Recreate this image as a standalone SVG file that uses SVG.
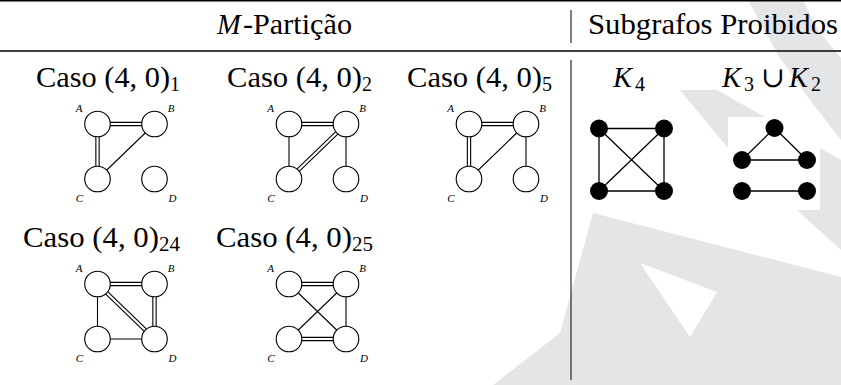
<svg xmlns="http://www.w3.org/2000/svg" width="841" height="385" viewBox="0 0 841 385">
<style>
.f{font-family:'Liberation Serif','Times New Roman','DejaVu Serif',Times,serif}
.t{font-size:28.5px;fill:#000}
.s{font-size:20px;fill:#000}
.i{font-style:italic}
.lb{font-size:11px;font-style:italic;fill:#000;text-anchor:middle}
.e{stroke:#000;stroke-width:1.1;fill:none}
.do{stroke:#000;stroke-width:4.4;fill:none}
.di{stroke:#fff;stroke-width:2.2;fill:none}
.n{fill:#fff;stroke:#000;stroke-width:1.1}
.k{fill:#000}
.ke{stroke:#000;stroke-width:1.3}
.wm{fill:#e4e5e7}
.rule{stroke:#000}
</style>
<rect width="841" height="385" fill="#fff"/>
<g id="watermark">
<polygon class="wm" points="748,0 803,0 818,30 841,58 841,140 810,100 778,55"/>
<polygon class="wm" points="680,90 717,90 841,160 841,250 727,147"/>
<path class="wm" fill-rule="evenodd" d="M593,213 L841,277 L841,385 L493,385 L560,333 Z M640,263 L717,292 L690,337 Z"/>
</g>
<rect x="728" y="117" width="92" height="93" fill="#fff"/>
<g id="rules">
<line class="rule" x1="0" y1="0.8" x2="841" y2="0.8" stroke-width="1.6"/>
<line class="rule" x1="0" y1="51" x2="841" y2="51" stroke-width="1.5" stroke="#222"/>
<line class="rule" x1="571" y1="10" x2="571" y2="43" stroke-width="1"/>
<line class="rule" x1="571" y1="60" x2="571" y2="380" stroke-width="1"/>
</g>
<g class="f">
<g id="headers">
<text class="t i" x="217" y="34">M</text>
<text class="t" x="243" y="34" textLength="109" lengthAdjust="spacingAndGlyphs">-Partição</text>
<text class="t" x="588" y="34" textLength="250" lengthAdjust="spacingAndGlyphs">Subgrafos Proibidos</text>
</g>
<g id="captions">
<text class="t" x="36" y="87" textLength="134" lengthAdjust="spacingAndGlyphs">Caso (4, 0)</text><text class="s" x="170" y="91">1</text>
<text class="t" x="227" y="87" textLength="135" lengthAdjust="spacingAndGlyphs">Caso (4, 0)</text><text class="s" x="362" y="91">2</text>
<text class="t" x="407" y="87" textLength="135" lengthAdjust="spacingAndGlyphs">Caso (4, 0)</text><text class="s" x="542" y="91">5</text>
<text class="t" x="23" y="247" textLength="136" lengthAdjust="spacingAndGlyphs">Caso (4, 0)</text><text class="s" x="159" y="251" textLength="21" lengthAdjust="spacingAndGlyphs">24</text>
<text class="t" x="216" y="247" textLength="136" lengthAdjust="spacingAndGlyphs">Caso (4, 0)</text><text class="s" x="352" y="251" textLength="21" lengthAdjust="spacingAndGlyphs">25</text>
<text class="t i" x="613" y="87">K</text><text class="s" x="635" y="91">4</text>
<text class="t i" x="722" y="87">K</text><text class="s" x="744" y="91">3</text>
<text class="t" x="761" y="87" font-size="24">∪</text>
<text class="t i" x="789" y="87">K</text><text class="s" x="811" y="91">2</text>
</g>
</g>
<g id="connectors">
<line class="do" x1="97.5" y1="124" x2="154.5" y2="124"/><line class="di" x1="97.5" y1="124" x2="154.5" y2="124"/>
<line class="do" x1="97.5" y1="124" x2="97.5" y2="179"/><line class="di" x1="97.5" y1="124" x2="97.5" y2="179"/>
<line class="e" x1="154.5" y1="124" x2="97.5" y2="179"/>
<line class="do" x1="289" y1="124" x2="346" y2="124"/><line class="di" x1="289" y1="124" x2="346" y2="124"/>
<line class="e" x1="289" y1="124" x2="289" y2="179"/>
<line class="do" x1="346" y1="124" x2="289" y2="179"/><line class="di" x1="346" y1="124" x2="289" y2="179"/>
<line class="e" x1="346" y1="124" x2="346" y2="179"/>
<line class="do" x1="469" y1="124" x2="526" y2="124"/><line class="di" x1="469" y1="124" x2="526" y2="124"/>
<line class="do" x1="469" y1="124" x2="469" y2="179"/><line class="di" x1="469" y1="124" x2="469" y2="179"/>
<line class="e" x1="526" y1="124" x2="469" y2="179"/>
<line class="e" x1="526" y1="124" x2="526" y2="179"/>
<line class="do" x1="97.5" y1="284" x2="154.5" y2="284"/><line class="di" x1="97.5" y1="284" x2="154.5" y2="284"/>
<line class="e" x1="97.5" y1="284" x2="97.5" y2="339"/>
<line class="do" x1="97.5" y1="284" x2="154.5" y2="339"/><line class="di" x1="97.5" y1="284" x2="154.5" y2="339"/>
<line class="do" x1="154.5" y1="284" x2="154.5" y2="339"/><line class="di" x1="154.5" y1="284" x2="154.5" y2="339"/>
<line class="e" x1="97.5" y1="339" x2="154.5" y2="339"/>
<line class="do" x1="289" y1="284" x2="346" y2="284"/><line class="di" x1="289" y1="284" x2="346" y2="284"/>
<line class="e" x1="289" y1="284" x2="346" y2="339"/>
<line class="e" x1="346" y1="284" x2="289" y2="339"/>
<line class="e" x1="346" y1="284" x2="346" y2="339"/>
<line class="do" x1="289" y1="339" x2="346" y2="339"/><line class="di" x1="289" y1="339" x2="346" y2="339"/>
<line class="ke" x1="599" y1="128.5" x2="664" y2="128.5"/>
<line class="ke" x1="599" y1="191" x2="664" y2="191"/>
<line class="ke" x1="599" y1="128.5" x2="599" y2="191"/>
<line class="ke" x1="664" y1="128.5" x2="664" y2="191"/>
<line class="ke" x1="599" y1="128.5" x2="664" y2="191"/>
<line class="ke" x1="664" y1="128.5" x2="599" y2="191"/>
<line class="ke" x1="774.5" y1="128" x2="742" y2="160"/>
<line class="ke" x1="774.5" y1="128" x2="807" y2="160"/>
<line class="ke" x1="742" y1="160" x2="807" y2="160"/>
<line class="ke" x1="742" y1="191" x2="807" y2="191"/>
</g>
<g class="f">
<g id="g1">
<circle class="n" cx="97.5" cy="124" r="12.8"/><circle class="n" cx="154.5" cy="124" r="12.8"/>
<circle class="n" cx="97.5" cy="179" r="12.8"/><circle class="n" cx="154.5" cy="179" r="12.8"/>
<text class="lb" x="79" y="111.5">A</text><text class="lb" x="171" y="111.5">B</text>
<text class="lb" x="79.5" y="201.7">C</text><text class="lb" x="172.5" y="201.7">D</text>
</g>
<g id="g2">
<circle class="n" cx="289" cy="124" r="12.8"/><circle class="n" cx="346" cy="124" r="12.8"/>
<circle class="n" cx="289" cy="179" r="12.8"/><circle class="n" cx="346" cy="179" r="12.8"/>
<text class="lb" x="270.5" y="111.5">A</text><text class="lb" x="362.5" y="111.5">B</text>
<text class="lb" x="271" y="201.7">C</text><text class="lb" x="364" y="201.7">D</text>
</g>
<g id="g5">
<circle class="n" cx="469" cy="124" r="12.8"/><circle class="n" cx="526" cy="124" r="12.8"/>
<circle class="n" cx="469" cy="179" r="12.8"/><circle class="n" cx="526" cy="179" r="12.8"/>
<text class="lb" x="450.5" y="111.5">A</text><text class="lb" x="542.5" y="111.5">B</text>
<text class="lb" x="451" y="201.7">C</text><text class="lb" x="544" y="201.7">D</text>
</g>
<g id="g24">
<circle class="n" cx="97.5" cy="284" r="12.8"/><circle class="n" cx="154.5" cy="284" r="12.8"/>
<circle class="n" cx="97.5" cy="339" r="12.8"/><circle class="n" cx="154.5" cy="339" r="12.8"/>
<text class="lb" x="79" y="271.5">A</text><text class="lb" x="171" y="271.5">B</text>
<text class="lb" x="79.5" y="361.7">C</text><text class="lb" x="172.5" y="361.7">D</text>
</g>
<g id="g25">
<circle class="n" cx="289" cy="284" r="12.8"/><circle class="n" cx="346" cy="284" r="12.8"/>
<circle class="n" cx="289" cy="339" r="12.8"/><circle class="n" cx="346" cy="339" r="12.8"/>
<text class="lb" x="270.5" y="271.5">A</text><text class="lb" x="362.5" y="271.5">B</text>
<text class="lb" x="271" y="361.7">C</text><text class="lb" x="364" y="361.7">D</text>
</g>
</g>
<g id="k4">
<circle class="k" cx="599" cy="128.5" r="9"/><circle class="k" cx="664" cy="128.5" r="9"/>
<circle class="k" cx="599" cy="191" r="9"/><circle class="k" cx="664" cy="191" r="9"/>
</g>
<g id="k3k2">
<circle class="k" cx="774.5" cy="128" r="9"/><circle class="k" cx="742" cy="160" r="9"/>
<circle class="k" cx="807" cy="160" r="9"/><circle class="k" cx="742" cy="191" r="9"/>
<circle class="k" cx="807" cy="191" r="9"/>
</g>
</svg>
